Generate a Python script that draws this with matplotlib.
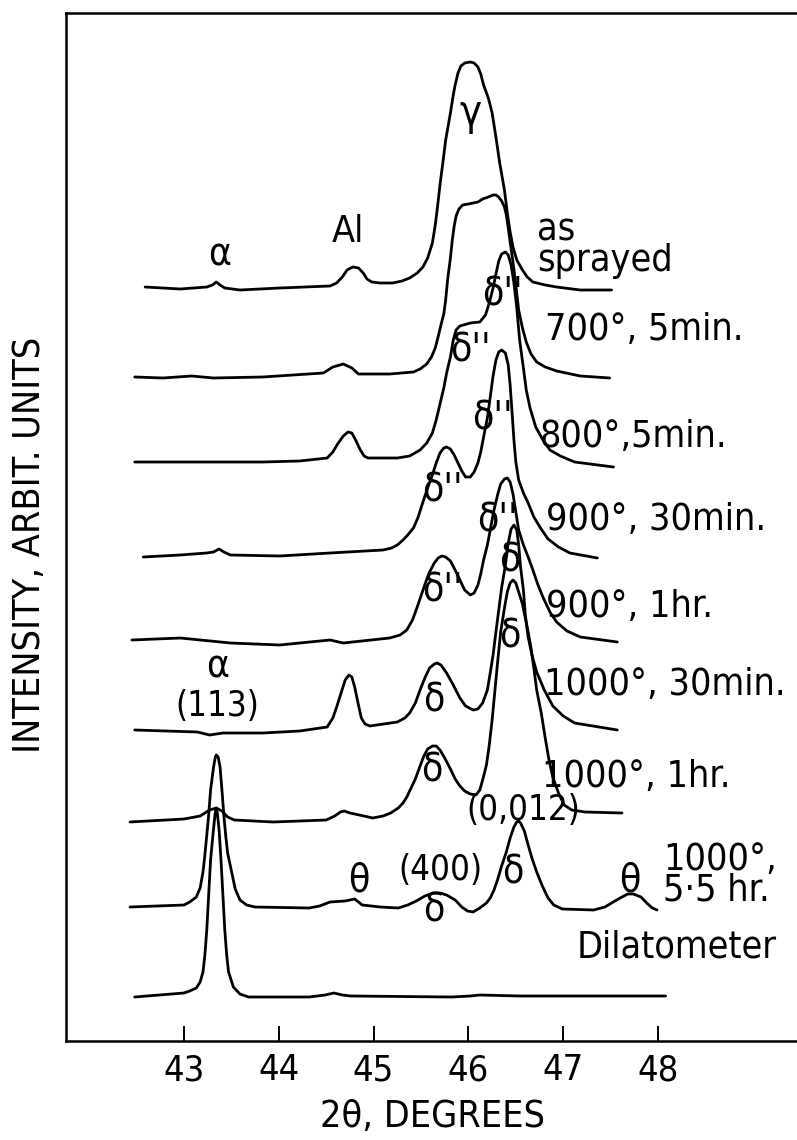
#!/usr/bin/env python

import matplotlib
matplotlib.use('Agg')

import matplotlib.pyplot as plt

plt.rcParams['font.family'] = ['DejaVu Sans']
plt.rcParams['font.stretch'] = 'condensed'

# 2-theta (degrees) and stacked intensity (arbitrary units) for each scan
as_x = [42.59, 42.96, 43.24, 43.30, 43.34, 43.38, 43.43, 43.59, 44.01, 44.54, 44.61, 44.67,
        44.72, 44.78, 44.84, 44.89, 44.93, 44.98, 45.07, 45.20, 45.30, 45.38, 45.46, 45.52,
        45.57, 45.62, 45.65, 45.67, 45.70, 45.73, 45.76, 45.81, 45.84, 45.86, 45.89, 45.92,
        45.96, 46.02, 46.06, 46.10, 46.13, 46.16, 46.21, 46.25, 46.29, 46.33, 46.38, 46.41,
        46.44, 46.47, 46.51, 46.57, 46.62, 46.68, 46.81, 46.93, 47.18, 47.51]
as_y = [754, 752, 754, 756, 759, 756, 753, 751, 753, 755, 758, 764,
        771, 774, 773, 768, 762, 759, 758, 758, 760, 763, 768, 774,
        783, 798, 816, 831, 856, 878, 901, 928, 946, 956, 968, 975,
        978, 979, 978, 974, 967, 956, 943, 928, 904, 878, 851, 828,
        809, 794, 781, 771, 764, 759, 756, 754, 751, 751]

t700_x = [42.48, 42.78, 43.08, 43.31, 43.83, 44.47, 44.57, 44.68, 44.77, 44.84, 45.17, 45.42,
          45.49, 45.56, 45.61, 45.65, 45.68, 45.71, 45.74, 45.76, 45.78, 45.81, 45.83, 45.85,
          45.87, 45.90, 45.94, 46.00, 46.05, 46.10, 46.15, 46.21, 46.26, 46.29, 46.32, 46.35,
          46.38, 46.40, 46.42, 46.44, 46.47, 46.50, 46.53, 46.57, 46.61, 46.66, 46.72, 46.81,
          46.93, 47.18, 47.49]
t700_y = [664, 663, 665, 663, 664, 668, 674, 677, 673, 667, 667, 669,
          672, 677, 684, 693, 704, 716, 727, 741, 761, 783, 801, 815,
          825, 832, 836, 837, 838, 839, 842, 844, 846, 846, 844, 840,
          834, 826, 813, 799, 779, 756, 731, 713, 699, 687, 679, 674,
          670, 665, 663]

t800_x = [42.48, 43.14, 43.83, 44.22, 44.51, 44.57, 44.62, 44.68, 44.73, 44.77, 44.81, 44.86,
          44.90, 44.94, 45.25, 45.38, 45.49, 45.56, 45.62, 45.66, 45.70, 45.74, 45.77, 45.81,
          45.84, 45.87, 45.91, 46.02, 46.12, 46.18, 46.22, 46.26, 46.29, 46.32, 46.35, 46.39,
          46.42, 46.45, 46.48, 46.51, 46.54, 46.58, 46.61, 46.65, 46.71, 46.78, 46.86, 46.97,
          47.12, 47.53]
t800_y = [579, 579, 579, 580, 583, 589, 597, 605, 609, 608, 601, 591,
          585, 583, 583, 585, 591, 598, 608, 621, 637, 653, 668, 684,
          701, 711, 715, 718, 719, 726, 738, 753, 767, 780, 787, 789,
          786, 776, 758, 733, 701, 673, 651, 633, 614, 602, 591, 585,
          579, 574]

t900a_x = [42.57, 42.96, 43.24, 43.31, 43.37, 43.42, 43.49, 44.01, 44.54, 45.10, 45.19, 45.25,
           45.31, 45.36, 45.42, 45.47, 45.52, 45.57, 45.62, 45.66, 45.70, 45.74, 45.77, 45.81,
           45.85, 45.89, 45.93, 45.97, 46.02, 46.06, 46.10, 46.13, 46.16, 46.20, 46.23, 46.26,
           46.29, 46.32, 46.35, 46.39, 46.42, 46.44, 46.46, 46.48, 46.50, 46.53, 46.58, 46.63,
           46.69, 46.76, 46.84, 46.95, 47.07, 47.36]
t900a_y = [484, 486, 488, 489, 492, 489, 486, 485, 488, 491, 493, 496,
           501, 506, 513, 524, 539, 553, 566, 578, 588, 593, 594, 592,
           586, 578, 570, 564, 564, 569, 578, 589, 604, 623, 644, 665,
           681, 689, 691, 688, 676, 656, 629, 601, 579, 561, 548, 538,
           524, 513, 502, 494, 488, 483]

t900b_x = [42.45, 42.96, 43.49, 44.01, 44.54, 44.68, 45.17, 45.28, 45.35, 45.41, 45.46, 45.51,
           45.55, 45.59, 45.64, 45.68, 45.72, 45.76, 45.81, 45.86, 45.91, 45.96, 46.02, 46.06,
           46.10, 46.13, 46.16, 46.20, 46.23, 46.27, 46.31, 46.34, 46.38, 46.41, 46.44, 46.47,
           46.50, 46.53, 46.58, 46.63, 46.68, 46.73, 46.79, 46.86, 46.93, 47.04, 47.18, 47.57]
t900b_y = [401, 403, 398, 396, 401, 398, 403, 406, 411, 421, 434, 448,
           459, 469, 478, 483, 485, 484, 480, 471, 461, 451, 446, 448,
           456, 467, 481, 496, 511, 531, 547, 557, 562, 563, 559, 547,
           529, 511, 496, 484, 471, 457, 443, 429, 419, 410, 404, 399]

t1000a_x = [42.48, 43.14, 43.27, 43.41, 43.83, 44.22, 44.51, 44.57, 44.61, 44.66, 44.70, 44.74,
            44.77, 44.80, 44.84, 44.87, 44.91, 44.96, 45.25, 45.33, 45.38, 45.44, 45.49, 45.54,
            45.59, 45.64, 45.67, 45.71, 45.77, 45.84, 45.91, 45.97, 46.05, 46.10, 46.15, 46.20,
            46.23, 46.26, 46.29, 46.32, 46.35, 46.39, 46.42, 46.45, 46.48, 46.51, 46.53, 46.55,
            46.58, 46.60, 46.63, 46.67, 46.72, 46.80, 46.89, 47.00, 47.12, 47.57]
t1000a_y = [311, 309, 306, 308, 308, 310, 314, 323, 334, 349, 361, 366,
            364, 354, 336, 323, 317, 315, 319, 323, 328, 338, 351, 363,
            373, 377, 378, 376, 368, 356, 343, 335, 331, 332, 338, 351,
            368, 386, 409, 431, 453, 476, 498, 512, 516, 511, 496, 474,
            451, 426, 404, 386, 369, 351, 335, 325, 318, 311]

t1000b_x = [42.43, 43.00, 43.17, 43.22, 43.27, 43.34, 43.40, 43.46, 43.53, 43.94, 44.50, 44.59,
            44.65, 44.69, 44.75, 44.85, 44.99, 45.10, 45.18, 45.26, 45.31, 45.35, 45.39, 45.44,
            45.49, 45.53, 45.57, 45.62, 45.66, 45.70, 45.75, 45.81, 45.86, 45.91, 45.96, 46.02,
            46.08, 46.12, 46.15, 46.19, 46.22, 46.25, 46.28, 46.31, 46.34, 46.38, 46.41, 46.44,
            46.47, 46.50, 46.53, 46.57, 46.60, 46.63, 46.66, 46.69, 46.72, 46.77, 46.81, 46.85,
            46.89, 46.95, 47.01, 47.09, 47.23, 47.62]
t1000b_y = [219, 222, 225, 228, 231, 233, 230, 224, 221, 219, 221, 225,
            229, 230, 228, 226, 223, 225, 228, 233, 238, 244, 252, 262,
            275, 285, 292, 295, 295, 291, 283, 272, 262, 255, 250, 247,
            246, 251, 261, 276, 296, 321, 351, 381, 409, 433, 449, 458,
            461, 458, 449, 437, 423, 409, 393, 373, 351, 327, 303, 281,
            264, 248, 236, 231, 229, 228]

t1000c_x = [42.43, 43.00, 43.06, 43.13, 43.17, 43.20, 43.22, 43.24, 43.26, 43.28, 43.31, 43.33,
            43.34, 43.36, 43.38, 43.40, 43.42, 43.44, 43.46, 43.50, 43.54, 43.59, 43.66, 43.75,
            44.32, 44.43, 44.54, 44.70, 44.80, 44.84, 44.88, 45.07, 45.26, 45.36, 45.45, 45.54,
            45.63, 45.70, 45.77, 45.86, 45.93, 45.99, 46.05, 46.12, 46.19, 46.23, 46.27, 46.31,
            46.35, 46.40, 46.44, 46.48, 46.51, 46.53, 46.55, 46.59, 46.63, 46.67, 46.72, 46.78,
            46.84, 46.90, 46.99, 47.32, 47.44, 47.51, 47.60, 47.68, 47.74, 47.82, 47.88, 47.94,
            47.99]
t1000c_y = [134, 136, 139, 144, 153, 169, 186, 206, 226, 251, 273, 284,
            286, 284, 274, 251, 226, 205, 188, 170, 152, 141, 136, 134,
            133, 135, 139, 140, 142, 139, 136, 134, 133, 136, 140, 145,
            148, 148, 146, 141, 134, 130, 129, 133, 138, 143, 151, 162,
            175, 189, 203, 214, 219, 220, 218, 210, 196, 183, 169, 155,
            143, 136, 132, 131, 134, 138, 143, 147, 147, 144, 138, 133,
            131]

dil_x = [42.48, 43.00, 43.06, 43.13, 43.17, 43.20, 43.22, 43.24, 43.26, 43.28, 43.31, 43.33,
         43.34, 43.35, 43.37, 43.39, 43.41, 43.43, 43.45, 43.47, 43.52, 43.59, 43.68, 44.32,
         44.49, 44.58, 44.67, 44.76, 45.82, 46.02, 46.12, 46.54, 46.96, 48.08]
dil_y = [44, 48, 50, 53, 59, 69, 86, 111, 146, 181, 211, 229,
         233, 229, 211, 181, 146, 111, 86, 69, 54, 47, 44, 44,
         46, 48, 46, 45, 44, 45, 46, 45, 45, 45]

scans = [(as_x, as_y), (t700_x, t700_y), (t800_x, t800_y), (t900a_x, t900a_y),
         (t900b_x, t900b_y), (t1000a_x, t1000a_y), (t1000b_x, t1000b_y),
         (t1000c_x, t1000c_y), (dil_x, dil_y)]

conditions = ["as\nsprayed", "700°, 5min.", "800°,5min.", "900°, 30min.", "900°, 1hr.",
              "1000°, 30min.", "1000°, 1hr.", "1000°,\n5·5 hr.", "Dilatometer"]
cond_pos = [(46.72, 795), (46.81, 711), (46.75, 604), (46.82, 521), (46.82, 434),
            (46.80, 356), (46.78, 264), (48.05, 166), (47.14, 93)]

peak_labels = ["α", "Al", "γ", "δ''", "δ''", "δ''", "δ''", "δ''", "δ''", "δ",
               "α", "(113)", "δ", "δ", "δ", "(0,012)", "θ", "(400)", "δ", "δ", "θ"]
peak_pos = [(43.38, 786), (44.73, 809), (46.02, 928), (46.36, 746), (46.02, 691),
            (46.25, 623), (45.73, 551), (46.31, 521), (45.73, 451), (46.44, 481),
            (43.35, 374), (43.35, 335), (45.63, 341), (46.44, 404), (45.61, 271), (46.58, 231),
            (44.84, 161), (45.71, 171), (45.63, 131), (46.47, 168), (47.70, 161)]

W, H = 797, 1140
fig = plt.figure(figsize=(W / 100, H / 100), dpi=100)
ax = fig.add_axes([66 / W, 1 - 1041 / H, 1 - 66 / W, (1041 - 13) / H])

for x, y in scans:
    ax.plot(x, y, color='black', lw=2.0, solid_joinstyle='round', solid_capstyle='round')

for txt, (x, y) in zip(conditions, cond_pos):
    ax.text(x, y, txt, fontsize=27, ha='left', va='center', linespacing=0.8)

for txt, (x, y) in zip(peak_labels, peak_pos):
    if txt.startswith("("):
        fs = 25
    elif txt == "Al":
        fs = 27
    elif txt == "γ":
        fs = 30
    else:
        fs = 28
    ax.text(x, y, txt, fontsize=fs, ha='center', va='center')

ax.set_xlim(41.755, 49.466)
ax.set_ylim(0, 1028)
ax.set_xticks([43, 44, 45, 46, 47, 48])
ax.set_yticks([])
ax.tick_params(axis='x', direction='in', length=11, width=1.4, labelsize=26, pad=9)

ax.spines['right'].set_visible(False)
for s in ['left', 'bottom', 'top']:
    ax.spines[s].set_linewidth(1.8)

fig.text(432 / W, 1 - 1117 / H, "2θ, DEGREES", fontsize=27, ha='center', va='center')
fig.text(30 / W, 1 - 545 / H, "INTENSITY, ARBIT. UNITS", fontsize=27, ha='center',
         va='center', rotation=90)

plt.savefig("out.png", dpi=100)
